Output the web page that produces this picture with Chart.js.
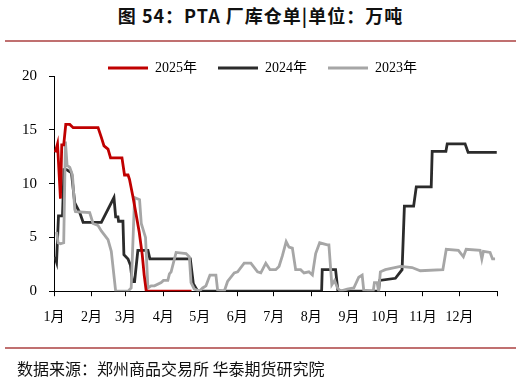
<!DOCTYPE html>
<html>
<head>
<meta charset="utf-8">
<script src="https://cdn.jsdelivr.net/npm/chart.js@4.4.1/dist/chart.umd.min.js"></script>
<style>
  body { margin: 0; width: 521px; height: 379px; position: relative; background: #fff; overflow: hidden; }
  #chart { position: absolute; left: 0; top: 0; }
  #title { position: absolute; left: 0; top: 2px; width: 521px; text-align: center;
           font: bold 18px "Noto Sans CJK SC", sans-serif; letter-spacing: 1px; color: #111; }
  .rule { position: absolute; left: 5px; width: 511px; height: 2px; background: #c07070; }
  #source { position: absolute; left: 17px; top: 356px; font: 16px "Noto Sans CJK SC", sans-serif; color: #111; }
</style>
</head>
<body>
<div id="title">图 54：PTA 厂库仓单|单位：万吨</div>
<div class="rule" style="top:40px"></div>
<canvas id="chart" width="521" height="379"></canvas>
<div class="rule" style="top:347px"></div>
<div id="source">数据来源：郑州商品交易所 华泰期货研究院</div>
<script>
// 月份刻度（按一年中的天数）
const monthStarts = [0, 31, 59, 90, 120, 151, 181, 212, 243, 273, 304, 334, 365];
const monthLabels = ['1月', '2月', '3月', '4月', '5月', '6月', '7月', '8月', '9月', '10月', '11月', '12月', ''];
const yTicks = [0, 5, 10, 15, 20];

// 2025年
const days2025 = [1, 2.9, 5.3, 6.4, 8, 9.7, 13, 15.8, 36.3, 39, 41.2, 44.5, 46.6, 56, 58.1, 61, 62.2, 65, 67.7, 70.2, 72.7, 74.3, 76, 113.3];
const vals2025 = [12.9, 13.7, 8.6, 13.6, 13.6, 15.5, 15.5, 15.2, 15.2, 14.3, 13.5, 13.2, 12.4, 12.4, 10.8, 10.8, 10.4, 8.8, 7.1, 5.5, 3.4, 1.5, 0, 0];

// 2024年
const days2024 = [0.7, 2.1, 3.7, 7, 8.2, 10.3, 14.4, 17.1, 21.2, 24, 39, 49.4, 50.8, 52.7, 53.2, 56.8, 57.6, 61, 63, 64.5,
  66.4, 69.1, 77.4, 79, 112.3, 114.8, 118.4, 220.5, 221, 232, 233.9, 267.3, 268.4, 281.3, 286.8, 288.7, 296.3, 298.5, 310.8, 311.6,
  322.9, 324, 338.7, 341.2, 364.8];
const vals2024 = [3.2, 2.7, 7.0, 7.0, 11.3, 11.3, 11.0, 8.2, 7.3, 6.4, 6.4, 8.7, 6.9, 6.9, 6.5, 6.5, 3.4, 3.0, 2.4, 0.9,
  0.9, 3.8, 3.8, 3.0, 3.0, 0.7, 0, 0, 2.0, 2.0, 0, 0, 1.0, 1.2, 2.0, 7.9, 7.9, 9.7, 9.7, 13.0,
  13.0, 13.7, 13.7, 12.9, 12.9];

// 2023年
const days2023 = [2.1, 3.4, 5.3, 8, 9.4, 10.8, 13, 15.2, 17.1, 17.7, 29.4, 32.2, 36.3, 39, 44.5, 47.2, 50.8, 61, 63.6, 66.4,
  70.5, 71.9, 75.4, 77.4, 80, 82.8, 88.3, 90.2, 93.8, 95.1, 96.5, 100.6, 108.8, 111.5, 112.9, 115.6, 119.7, 122.5, 125.2, 128.5,
  133.4, 134.8, 140.3, 143, 148.5, 151.3, 156.7, 162.2, 167.7, 170.4, 174.5, 178, 182.7, 185.4, 188.2, 191.3, 193.6, 196.4, 199.1, 203.2,
  206, 210, 212.9, 215.6, 218.9, 225.2, 226.5, 228.9, 231.2, 233.6, 236.1, 241.6, 247, 251.1, 253.9, 255.2, 263, 264, 266.2, 267.5,
  268.9, 273, 285.4, 295, 301.8, 320.4, 323.2, 333.2, 337.3, 339.6, 351.1, 352.5, 353.8, 359.3, 361.3, 363.4];
const vals2023 = [5.5, 4.5, 4.4, 4.5, 13.9, 11.7, 11.5, 10.8, 7.6, 7.4, 7.3, 6.3, 6.1, 5.6, 4.8, 3.7, 0, 0, 0.3, 8.7,
  8.5, 6.3, 5.0, 0.3, 0.5, 0.5, 0.8, 1.0, 1.0, 1.6, 1.8, 3.6, 3.5, 3.2, 0.8, 0.2, 0, 0.3, 0.5, 1.5,
  1.5, 0.1, 0, 0.9, 1.7, 1.8, 2.6, 2.6, 1.8, 1.7, 2.6, 2.0, 2.0, 2.3, 3.3, 4.6, 4.1, 4.0, 2.0, 2.0,
  1.7, 1.8, 1.5, 3.5, 4.5, 4.3, 4.3, 0.6, 1.0, 0.3, 0, 0.2, 0.3, 1.3, 1.5, 0.1, 0, 0.8, 0.8, 0,
  1.8, 2.0, 2.3, 2.2, 1.9, 2.0, 3.9, 3.8, 3.2, 3.9, 3.8, 3.0, 3.7, 3.6, 3.0, 3.0];

function toPoints(days, vals) {
  return days.map((d, i) => ({ x: d, y: vals[i] }));
}

const serif = '"Liberation Serif", "Times New Roman", "Noto Sans CJK SC", serif';

function makeLine(label, days, vals, color, order) {
  return {
    label: label,
    data: toPoints(days, vals),
    borderColor: color,
    backgroundColor: color,
    borderWidth: 2.8,
    pointRadius: 0,
    tension: 0,
    order: order,
    pointStyle: 'line'
  };
}

// 图例整体右移一点，对齐原图
const legendShift = {
  id: 'legendShift',
  afterLayout(chart) {
    chart.legend.left += 9;
    chart.legend.right += 9;
  }
};

const ctx = document.getElementById('chart').getContext('2d');
new Chart(ctx, {
  type: 'line',
  data: {
    datasets: [
      makeLine('2025年', days2025, vals2025, '#c00000', 0),
      makeLine('2024年', days2024, vals2024, '#2b2b2b', 2),
      makeLine('2023年', days2023, vals2023, '#a6a6a6', 1)
    ]
  },
  plugins: [legendShift],
  options: {
    responsive: false,
    animation: false,
    devicePixelRatio: 1,
    layout: { padding: { top: 40, left: 10, right: 24, bottom: 40 } },
    plugins: {
      tooltip: { enabled: false },
      legend: {
        position: 'top',
        maxHeight: 36,
        labels: {
          usePointStyle: true,
          pointStyleWidth: 40,
          padding: 21,
          color: '#000',
          font: { family: serif, size: 14 },
          sort: (a, b) => a.datasetIndex - b.datasetIndex
        }
      }
    },
    scales: {
      x: {
        type: 'linear',
        min: 0,
        max: 365,
        afterBuildTicks: (scale) => {
          scale.ticks = monthStarts.map(v => ({ value: v }));
        },
        ticks: {
          autoSkip: false,
          maxRotation: 0,
          padding: 13,
          color: '#000',
          font: { family: serif, size: 14 },
          callback: (value, index) => monthLabels[index]
        },
        grid: { drawOnChartArea: false, drawTicks: true, tickLength: 5, color: '#000' },
        border: { color: '#000', width: 1 }
      },
      y: {
        min: 0,
        max: 20,
        afterBuildTicks: (scale) => {
          scale.ticks = yTicks.map(v => ({ value: v }));
        },
        ticks: {
          padding: 12,
          color: '#000',
          font: { family: serif, size: 15 }
        },
        grid: { drawOnChartArea: false, drawTicks: true, tickLength: 5, color: '#000' },
        border: { color: '#000', width: 1 }
      }
    }
  }
});
</script>
</body>
</html>
